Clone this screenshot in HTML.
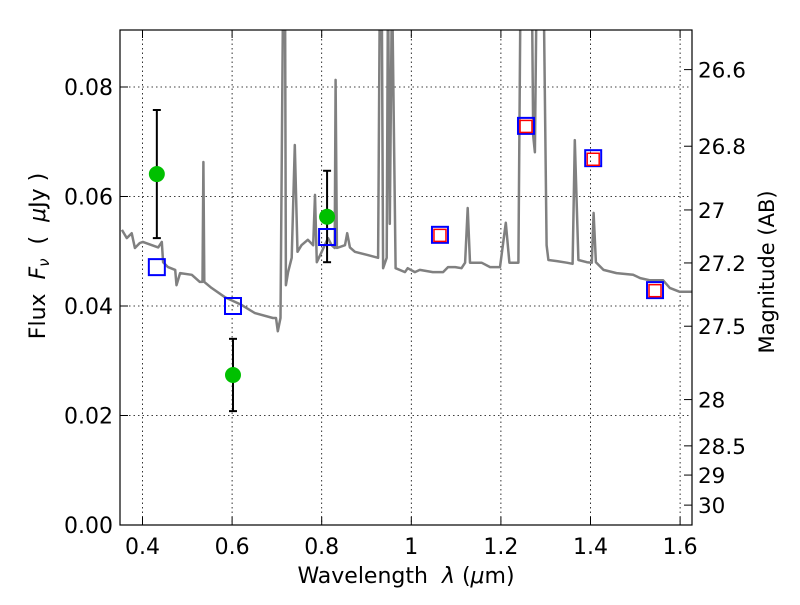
<!DOCTYPE html>
<html><head><meta charset="utf-8"><style>
body{margin:0;background:#fff}
svg text{font-family:"DejaVu Sans","Liberation Sans",sans-serif;fill:#000}
</style></head><body>
<svg id="chart" width="800" height="600" viewBox="0 0 800 600" xmlns="http://www.w3.org/2000/svg">
<rect width="800" height="600" fill="#fff"/>
<g id="grid"></g>
<g id="spec"></g>
<g id="marks"></g>
<rect x="120" y="30" width="572" height="495" fill="none" stroke="#000" stroke-width="1.2"/>
<g id="axes"></g>
<text x="406" y="583" font-size="22" text-anchor="middle" xml:space="preserve">Wavelength  <tspan font-style="italic">λ</tspan> (<tspan font-style="italic">μ</tspan>m)</text>
<text transform="translate(45,256) rotate(-90)" font-size="22" text-anchor="middle" xml:space="preserve">Flux  <tspan font-style="italic">F</tspan><tspan font-style="italic" font-size="15" dy="4">ν</tspan><tspan dy="-4">  (  </tspan><tspan font-style="italic">μ</tspan>Jy )</text>
<text transform="translate(774,272) rotate(-90)" font-size="21" text-anchor="middle">Magnitude (AB)</text>
</svg>
<script>
const specWave=[0.354,0.365,0.376,0.383,0.394,0.401,0.421,0.435,0.443,0.446,0.457,0.473,0.476,0.484,0.510,0.528,0.534,0.536,0.538,0.554,0.584,0.621,0.651,0.691,0.698,0.702,0.708,0.714,0.718,0.720,0.725,0.733,0.740,0.746,0.755,0.769,0.781,0.785,0.789,0.800,0.814,0.822,0.829,0.831,0.834,0.852,0.857,0.863,0.874,0.903,0.926,0.930,0.934,0.937,0.945,0.948,0.952,0.957,0.965,0.986,0.992,1.008,1.019,1.048,1.071,1.082,1.098,1.112,1.120,1.126,1.131,1.157,1.176,1.198,1.211,1.219,1.239,1.244,1.269,1.272,1.276,1.280,1.295,1.302,1.306,1.325,1.347,1.360,1.365,1.373,1.392,1.403,1.407,1.412,1.429,1.458,1.495,1.511,1.533,1.562,1.577,1.599,1.626];
const specFlux=[0.0539,0.0524,0.0533,0.0506,0.0515,0.0517,0.0511,0.0507,0.0517,0.0480,0.0471,0.0466,0.0438,0.0460,0.0457,0.0444,0.0444,0.0663,0.0444,0.0433,0.0416,0.0402,0.0387,0.0378,0.0378,0.0354,0.0378,0.1,0.1,0.0438,0.0462,0.0488,0.0694,0.0499,0.0511,0.0521,0.0511,0.0603,0.0480,0.0499,0.0524,0.0511,0.0506,0.0813,0.0506,0.0511,0.0533,0.0507,0.0499,0.0493,0.0488,0.1,0.1,0.0469,0.0488,0.1,0.055,0.1,0.0469,0.0462,0.0469,0.0462,0.0466,0.0462,0.0462,0.0471,0.0471,0.0469,0.0479,0.0579,0.0479,0.0479,0.0471,0.0471,0.0552,0.0479,0.0479,0.1,0.1,0.0711,0.0681,0.1,0.1,0.0511,0.0484,0.0482,0.0479,0.0477,0.0703,0.0484,0.0480,0.0479,0.0570,0.0480,0.0466,0.0460,0.0457,0.0451,0.0447,0.0447,0.0433,0.0426,0.0426];
const detWave=[0.432,0.602,0.812];
const detFlux=[0.0641,0.0274,0.0563];
const detErrHi=[0.0758,0.0340,0.0647];
const detErrLo=[0.0524,0.0208,0.0480];
const blueWave=[0.432,0.602,0.812,1.064,1.256,1.406,1.544];
const blueFlux=[0.0471,0.0400,0.0526,0.0530,0.0729,0.0670,0.0429];
const redWave=[1.064,1.256,1.406,1.544];
const redFlux=[0.0529,0.0728,0.0668,0.0428];
const xTicks=[0.4,0.6,0.8,1.0,1.2,1.4,1.6];
const xTickLabels=["0.4","0.6","0.8","1","1.2","1.4","1.6"];
const yTicks=[0,0.02,0.04,0.06,0.08];
const yTickLabels=["0.00","0.02","0.04","0.06","0.08"];
const magTicks=[26.6,26.8,27,27.2,27.5,28,28.5,29,30];
const magTickLabels=["26.6","26.8","27","27.2","27.5","28","28.5","29","30"];

const NS="http://www.w3.org/2000/svg";
function X(l){return 142.5+(l-0.4)*448;}
function Y(f){return 525-f*5475;}
function mk(tag,attrs,parent){const e=document.createElementNS(NS,tag);for(const k in attrs)e.setAttribute(k,attrs[k]);parent.appendChild(e);return e;}
const grid=document.getElementById('grid'),spec=document.getElementById('spec'),marks=document.getElementById('marks'),axes=document.getElementById('axes');

xTicks.forEach((t,i)=>{
  const g=mk('line',{x1:X(t),x2:X(t),y1:30,y2:525,stroke:'#000','stroke-width':0.8,'stroke-dasharray':'1.5,3'},grid);
  
  
  mk('line',{x1:X(t),x2:X(t),y1:525,y2:517,stroke:'#000'},axes);
  mk('line',{x1:X(t),x2:X(t),y1:30,y2:38,stroke:'#000'},axes);
  const tx=mk('text',{x:X(t),y:554,'font-size':22,'text-anchor':'middle'},axes);
  tx.textContent=xTickLabels[i];
  
  
});
yTicks.forEach((t,i)=>{
  if(t>0){const g=mk('line',{x1:120,x2:692,y1:Y(t),y2:Y(t),stroke:'#000','stroke-width':0.8,'stroke-dasharray':'1.5,3'},grid);
  
  }
  mk('line',{x1:120,x2:128,y1:Y(t),y2:Y(t),stroke:'#000'},axes);
  const tx=mk('text',{x:113,y:Y(t)+8,'font-size':22,'text-anchor':'end'},axes);
  tx.textContent=yTickLabels[i];
  
  
});
magTicks.forEach((m,i)=>{
  const f=Math.pow(10,(23.9-m)/2.5);
  const y=Y(f);
  mk('line',{x1:684,x2:692,y1:y,y2:y,stroke:'#000'},axes);
  const tx=mk('text',{x:698,y:y+8,'font-size':21.5},axes);
  tx.textContent=magTickLabels[i];
  
  
});

const clip=mk('clipPath',{id:'pc'},document.getElementById('chart'));
mk('rect',{x:120,y:30,width:572,height:495},clip);
spec.setAttribute('clip-path','url(#pc)');
const pts=specWave.map((l,i)=>X(l).toFixed(1)+','+Y(specFlux[i]).toFixed(1)).join(' ');
const pl=mk('polyline',{points:pts,fill:'none',stroke:'#808080','stroke-width':2.5,'stroke-linejoin':'round'},spec);



detWave.forEach((l,i)=>{
  const x=X(l);
  const e=mk('line',{x1:x,x2:x,y1:Y(detErrHi[i]),y2:Y(detErrLo[i]),stroke:'#000','stroke-width':2},marks);
  
  
  mk('line',{x1:x-4,x2:x+4,y1:Y(detErrHi[i]),y2:Y(detErrHi[i]),stroke:'#000','stroke-width':2},marks);
  mk('line',{x1:x-4,x2:x+4,y1:Y(detErrLo[i]),y2:Y(detErrLo[i]),stroke:'#000','stroke-width':2},marks);
});
blueWave.forEach((l,i)=>{
  const r=mk('rect',{x:X(l)-8,y:Y(blueFlux[i])-8,width:16,height:16,fill:'none',stroke:'#0000ff','stroke-width':2},marks);
  
  
});
redWave.forEach((l,i)=>{
  const r=mk('rect',{x:X(l)-6,y:Y(redFlux[i])-6,width:12,height:12,fill:'none',stroke:'#ff0000','stroke-width':1.5},marks);
  
  
});
detWave.forEach((l,i)=>{
  const c=mk('circle',{cx:X(l),cy:Y(detFlux[i]),r:8,fill:'#00c000'},marks);
  
  
});
</script>
</body></html>
